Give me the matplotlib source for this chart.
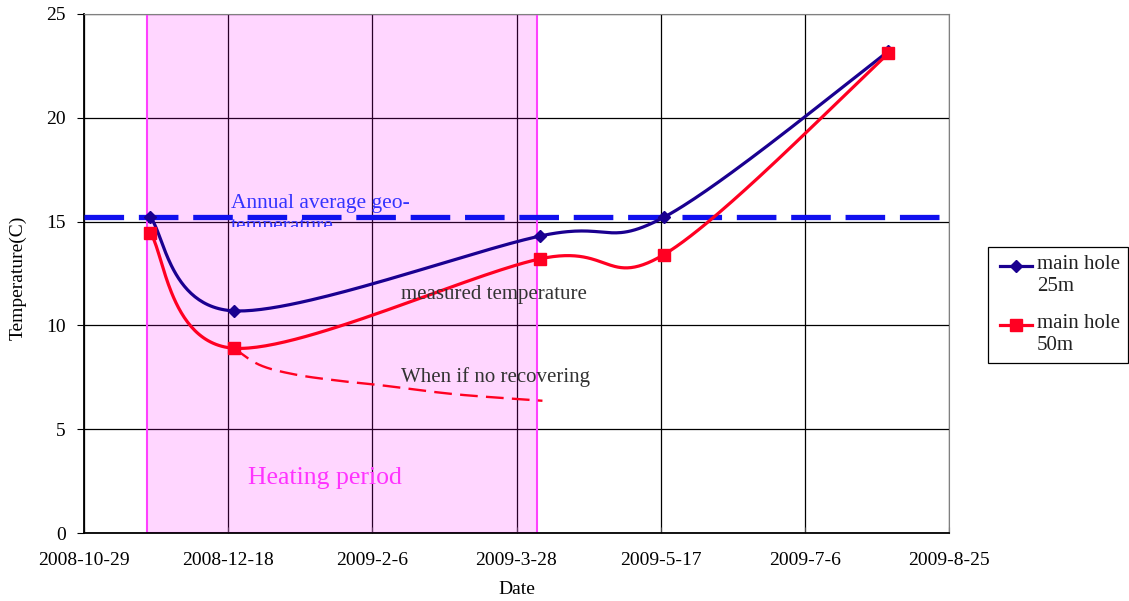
import numpy as np
import matplotlib
matplotlib.use("Agg")
import matplotlib.pyplot as plt
import matplotlib.dates as mdates
from matplotlib.patches import Rectangle
from matplotlib.lines import Line2D

plt.rcParams['font.family'] = ['Liberation Serif', 'DejaVu Serif']

# ---- data ----
dates = ["2008-11-21", "2008-12-20", "2009-04-05", "2009-05-18", "2009-08-04"]
hole25 = [15.2, 10.7, 14.3, 15.2, 23.2]
hole50 = [14.45, 8.9, 13.2, 13.4, 23.1]
norecover_dates = ["2008-12-20", "2008-12-29", "2009-01-10", "2009-01-25",
                   "2009-02-10", "2009-03-07", "2009-04-06"]
norecover_vals = [8.9, 8.09, 7.64, 7.34, 7.1, 6.68, 6.37]
annual_avg = 15.24
heating_start, heating_end = "2008-11-20", "2009-04-04"
xtick_labels = ["2008-10-29", "2008-12-18", "2009-2-6", "2009-3-28",
                "2009-5-17", "2009-7-6", "2009-8-25"]
yticks = [0, 5, 10, 15, 20, 25]
legend_labels = ["main hole\n25m", "main hole\n50m"]

C25 = '#1A0090'
C50 = '#FF0022'


def to_num(ds):
    return np.array([mdates.datestr2num(d) for d in ds])


def smooth(x, y, n=60):
    x = np.asarray(x, float); y = np.asarray(y, float)
    P = np.column_stack([x, y])
    out = []
    for i in range(len(P) - 1):
        p0 = P[i - 1] if i > 0 else P[i]
        p1 = P[i]; p2 = P[i + 1]
        p3 = P[i + 2] if i + 2 < len(P) else P[i + 1]
        b1 = p1 + (p2 - p0) / 6.0
        b2 = p2 - (p3 - p1) / 6.0
        t = np.linspace(0, 1, n)[:, None]
        seg = ((1 - t) ** 3) * p1 + 3 * ((1 - t) ** 2) * t * b1 + 3 * (1 - t) * t ** 2 * b2 + t ** 3 * p2
        out.append(seg if i == 0 else seg[1:])
    c = np.vstack(out)
    return c[:, 0], c[:, 1]


W, H = 1129, 601
fig = plt.figure(figsize=(W / 100, H / 100), dpi=100)
ax = fig.add_axes([84 / W, 68 / H, (949 - 84) / W, (533 - 14) / H])

xt = to_num(xtick_labels)
ax.set_xlim(xt[0], xt[-1])
ax.set_ylim(0, 25)
ax.set_xticks(xt)
ax.set_xticklabels(xtick_labels, fontsize=14)
ax.set_yticks(yticks)
ax.set_yticklabels([str(v) for v in yticks], fontsize=14)
ax.tick_params(axis='x', pad=14, length=4, direction='in', color='#444444')
ax.tick_params(axis='y', pad=8, length=5, direction='out')
ax.grid(True, color='black', linewidth=0.9)
ax.set_axisbelow(True)
for s in ['top', 'right']:
    ax.spines[s].set_color('#808080')
    ax.spines[s].set_linewidth(0.8)
for s in ['left', 'bottom']:
    ax.spines[s].set_linewidth(1.3)

# heating period
hs, he = to_num([heating_start, heating_end])
ax.add_patch(Rectangle((hs, 0), he - hs, 25, facecolor=(1.0, 0.0, 1.0, 0.16),
                       edgecolor=(1.0, 0.25, 1.0, 1.0), linewidth=1.5, zorder=2.5))

# annual text (second line partly hidden as in reference)
xa = mdates.datestr2num("2008-12-19")
ax.text(xa, (533 - 208) / 20.76, "Annual average geo-", color='#3333FF',
        fontsize=15.5, va='baseline', ha='left', zorder=3.5)
t2 = ax.text(xa, (533 - 231) / 20.76, "temperature", color='#3333FF',
             fontsize=15.5, va='baseline', ha='left', zorder=3.5)
clip = Rectangle((xt[0], (533 - 226.5) / 20.76), xt[-1] - xt[0], 10,
                 transform=ax.transData)
t2.set_clip_path(clip)
t2.set_clip_on(True)

# annual average line
ax.axhline(annual_avg, color='#1010EE', linewidth=3.8, dashes=(7.5, 2.8), zorder=4)

xd = to_num(dates)
sx, sy = smooth(xd, hole25)
ax.plot(sx, sy, color=C25, linewidth=2.3, zorder=5)
ax.plot(xd, hole25, linestyle='none', marker='D', color=C25, markersize=6.5, zorder=6)

sx, sy = smooth(xd, hole50)
ax.plot(sx, sy, color=C50, linewidth=2.3, zorder=5)
ax.plot(xd, hole50, linestyle='none', marker='s', color=C50, markersize=8.5, zorder=6)

nx, ny = smooth(to_num(norecover_dates), norecover_vals)
ax.plot(nx, ny, color=C50, linewidth=1.7, dashes=(7.5, 3.5), zorder=5)

# annotations
ax.text(mdates.datestr2num("2009-02-16"), 11.5, "measured temperature",
        color='#333333', fontsize=15, va='center', ha='left', zorder=7)
ax.text(mdates.datestr2num("2009-02-16"), 7.5, "When if no recovering",
        color='#333333', fontsize=15, va='center', ha='left', zorder=7)
ax.text(mdates.datestr2num("2008-12-25"), 2.65, "Heating period",
        color='#FF33FF', fontsize=18.5, va='center', ha='left', zorder=7)

ax.set_ylabel("Temperature(C)", fontsize=14, va='center')
ax.yaxis.set_label_coords((18 - 84) / 865, (533 - 278) / 519)
ax.set_xlabel("Date", fontsize=14, va='center')
ax.xaxis.set_label_coords((517 - 84) / 865, (533 - 590) / 519)

# legend box (drawn manually, handle aligned with first text line like the reference)
fig.patches.append(Rectangle((988 / W, 1 - 363 / H), 140 / W, 116 / H,
                             transform=fig.transFigure, facecolor='white',
                             edgecolor='black', linewidth=0.9))
entries = [(266, C25, 'D', 6.5), (325, C50, 's', 8.5)]
for (py, col, mk, ms), lab in zip(entries, legend_labels):
    yf = 1 - py / H
    fig.add_artist(Line2D([1000 / W, 1032 / W], [yf, yf], transform=fig.transFigure,
                          color=col, linewidth=2.3))
    fig.add_artist(Line2D([1016 / W], [yf], transform=fig.transFigure, color=col,
                          marker=mk, markersize=ms, linestyle='none'))
    fig.text(1037 / W, 1 - (py - 11) / H, lab, fontsize=15, va='top', ha='left',
             linespacing=1.2, color='#222222')

fig.savefig("out.png", dpi=100)
